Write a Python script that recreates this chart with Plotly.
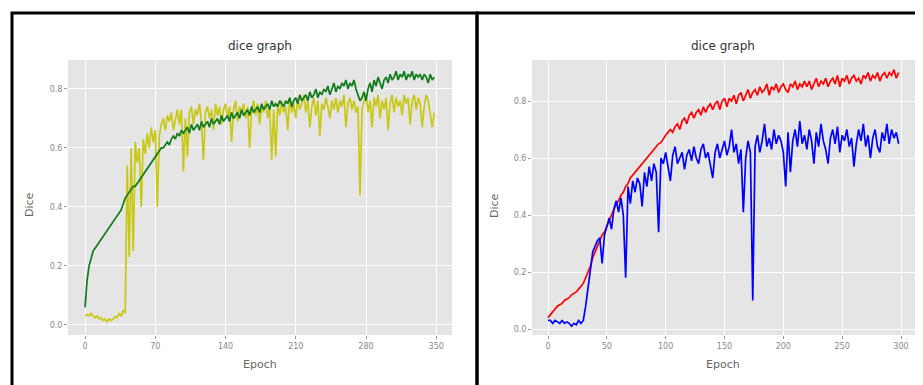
import plotly.graph_objects as go

# ---------------- data ----------------
left_epochs = list(range(0, 350, 2))
left_green = [
    0.06, 0.15, 0.20, 0.23, 0.25, 0.26, 0.27, 0.28, 0.29, 0.30,
    0.31, 0.32, 0.33, 0.34, 0.35, 0.36, 0.37, 0.38, 0.39, 0.41,
    0.43, 0.44, 0.45, 0.46, 0.47, 0.47, 0.48, 0.49, 0.50, 0.51,
    0.52, 0.53, 0.54, 0.55, 0.56, 0.57, 0.58, 0.59, 0.60, 0.60,
    0.61, 0.62, 0.61, 0.63, 0.64, 0.63, 0.65, 0.64, 0.66, 0.65,
    0.66, 0.67, 0.65, 0.68, 0.66, 0.67, 0.68, 0.66, 0.69, 0.67,
    0.68, 0.69, 0.67, 0.70, 0.68, 0.69, 0.70, 0.68, 0.71, 0.69,
    0.70, 0.71, 0.69, 0.72, 0.70, 0.71, 0.72, 0.70, 0.73, 0.71,
    0.72, 0.73, 0.71, 0.74, 0.72, 0.73, 0.74, 0.72, 0.75, 0.73,
    0.74, 0.75, 0.73, 0.76, 0.74, 0.75, 0.74, 0.76, 0.75, 0.74,
    0.76, 0.75, 0.77, 0.74, 0.76, 0.77, 0.75, 0.78, 0.76, 0.77,
    0.78, 0.76, 0.79, 0.77, 0.78, 0.80, 0.77, 0.79, 0.78, 0.80,
    0.79, 0.81, 0.78, 0.80, 0.82, 0.79, 0.81, 0.80, 0.82, 0.81,
    0.83, 0.80, 0.82, 0.81, 0.83, 0.80, 0.78, 0.76, 0.77, 0.79,
    0.76, 0.80, 0.82, 0.79, 0.83, 0.81, 0.84, 0.82, 0.80, 0.83,
    0.84, 0.82, 0.85, 0.83, 0.84, 0.86, 0.83, 0.85, 0.84, 0.86,
    0.83, 0.85, 0.84, 0.86, 0.83, 0.85, 0.84, 0.85, 0.83, 0.85,
    0.84, 0.82, 0.85, 0.83, 0.84,
]
left_yellow = [
    0.03, 0.035, 0.03, 0.04, 0.03, 0.025, 0.03, 0.02, 0.025, 0.015,
    0.02, 0.01, 0.02, 0.015, 0.02, 0.03, 0.025, 0.04, 0.03, 0.05,
    0.04, 0.54, 0.23, 0.60, 0.25, 0.62, 0.55, 0.60, 0.40, 0.63,
    0.58, 0.65, 0.60, 0.67, 0.62, 0.66, 0.40, 0.64, 0.68, 0.70,
    0.66, 0.71, 0.69, 0.72, 0.66, 0.70, 0.73, 0.68, 0.73, 0.52,
    0.70, 0.57, 0.72, 0.74, 0.68, 0.73, 0.71, 0.75, 0.69, 0.56,
    0.72, 0.74, 0.70, 0.73, 0.66, 0.75, 0.71, 0.74, 0.68, 0.73,
    0.75, 0.70, 0.74, 0.62, 0.73, 0.76, 0.69, 0.74, 0.72, 0.75,
    0.70, 0.74, 0.60, 0.73, 0.76, 0.71, 0.75, 0.68, 0.74, 0.72,
    0.76, 0.70, 0.74, 0.56, 0.73, 0.57, 0.75, 0.71, 0.76, 0.72,
    0.74, 0.66, 0.77, 0.72, 0.75, 0.70, 0.77, 0.73, 0.75, 0.78,
    0.72, 0.76, 0.67, 0.74, 0.77, 0.71, 0.76, 0.64, 0.75, 0.73,
    0.77, 0.74, 0.70, 0.76, 0.73, 0.77, 0.72, 0.76, 0.74, 0.78,
    0.67, 0.75, 0.77, 0.73, 0.76, 0.72, 0.74, 0.44, 0.73, 0.76,
    0.78, 0.72, 0.76, 0.67, 0.77, 0.74, 0.78, 0.70, 0.76, 0.73,
    0.77, 0.66, 0.75, 0.78, 0.72, 0.77, 0.74, 0.76, 0.71, 0.78,
    0.75, 0.77, 0.68, 0.76, 0.78, 0.73, 0.77, 0.75, 0.67, 0.74,
    0.78, 0.76, 0.72, 0.67, 0.72,
]

right_epochs = list(range(0, 300, 2))
right_red = [
    0.04, 0.05, 0.06, 0.07, 0.08, 0.085, 0.09, 0.10, 0.105, 0.11,
    0.12, 0.125, 0.13, 0.14, 0.15, 0.16, 0.18, 0.20, 0.22, 0.25,
    0.27, 0.29, 0.31, 0.33, 0.34, 0.36, 0.38, 0.40, 0.42, 0.44,
    0.45, 0.47, 0.48, 0.50, 0.51, 0.53, 0.54, 0.55, 0.56, 0.57,
    0.58, 0.59, 0.60, 0.61, 0.62, 0.63, 0.64, 0.65, 0.655, 0.67,
    0.68, 0.69, 0.70, 0.69, 0.71, 0.72, 0.70, 0.73, 0.74, 0.72,
    0.75, 0.76, 0.74, 0.76, 0.77, 0.75, 0.78, 0.76, 0.78, 0.79,
    0.77, 0.79, 0.80, 0.77, 0.80, 0.81, 0.78, 0.81, 0.80, 0.82,
    0.79, 0.82, 0.83, 0.80, 0.82, 0.84, 0.81, 0.83, 0.84, 0.82,
    0.85, 0.83, 0.84, 0.86, 0.82, 0.85, 0.84, 0.86, 0.83, 0.85,
    0.86, 0.84, 0.83, 0.86, 0.85, 0.87, 0.84, 0.86, 0.85, 0.87,
    0.85, 0.87, 0.84, 0.86, 0.88, 0.85, 0.87, 0.86, 0.88, 0.85,
    0.87, 0.88, 0.86, 0.89, 0.85, 0.88, 0.87, 0.89, 0.86, 0.88,
    0.89, 0.87, 0.88, 0.86, 0.89, 0.88, 0.90, 0.87, 0.89, 0.88,
    0.90, 0.87, 0.89, 0.90, 0.88, 0.90, 0.89, 0.91, 0.88, 0.90,
]
right_blue = [
    0.03, 0.03, 0.02, 0.03, 0.025, 0.02, 0.03, 0.02, 0.025, 0.02,
    0.01, 0.02, 0.015, 0.03, 0.02, 0.03, 0.08, 0.15, 0.22, 0.27,
    0.29, 0.31, 0.32, 0.23, 0.33, 0.36, 0.39, 0.35, 0.42, 0.45,
    0.41, 0.46, 0.40, 0.18, 0.50, 0.44, 0.52, 0.48, 0.53, 0.51,
    0.43, 0.55, 0.50, 0.57, 0.52, 0.58, 0.55, 0.34, 0.60, 0.58,
    0.62, 0.57, 0.52, 0.61, 0.64, 0.58, 0.60, 0.62, 0.56, 0.61,
    0.63, 0.59, 0.64, 0.60, 0.58, 0.63, 0.65, 0.60, 0.62, 0.57,
    0.53, 0.62, 0.65, 0.60, 0.63, 0.66, 0.61, 0.64, 0.70, 0.62,
    0.65, 0.58, 0.63, 0.41, 0.60, 0.66, 0.62, 0.10, 0.64, 0.68,
    0.62, 0.66, 0.72, 0.64, 0.67, 0.63, 0.70, 0.65, 0.68, 0.66,
    0.62, 0.50, 0.69, 0.55, 0.66, 0.70, 0.64, 0.73, 0.65, 0.68,
    0.63, 0.70, 0.66, 0.58, 0.69, 0.64, 0.72, 0.66, 0.63, 0.58,
    0.67, 0.70, 0.65, 0.71, 0.62, 0.68, 0.66, 0.70, 0.64, 0.67,
    0.57, 0.65, 0.70, 0.66, 0.72, 0.64, 0.68, 0.60, 0.67, 0.70,
    0.64, 0.62, 0.69, 0.66, 0.72, 0.65, 0.70, 0.67, 0.69, 0.65,
]

left_xticks = [0, 70, 140, 210, 280, 350]
right_xticks = [0, 50, 100, 150, 200, 250, 300]
y_ticks = [0.0, 0.2, 0.4, 0.6, 0.8]
y_tick_labels = ["0.0", "0.2", "0.4", "0.6", "0.8"]
title_text = "dice graph"
x_title = "Epoch"
y_title = "Dice"

# ---------------- figure ----------------
W, H = 915, 377     # page body has an 8px margin
OFF = 8

fig = go.Figure()

fig.add_trace(go.Scatter(x=left_epochs, y=left_yellow, mode="lines",
                         line=dict(color="#c8c814", width=1.7),
                         xaxis="x", yaxis="y", showlegend=False))
fig.add_trace(go.Scatter(x=left_epochs, y=left_green, mode="lines",
                         line=dict(color="#0f7a18", width=1.7),
                         xaxis="x", yaxis="y", showlegend=False))
fig.add_trace(go.Scatter(x=right_epochs, y=right_red, mode="lines",
                         line=dict(color="#ff0000", width=1.7),
                         xaxis="x2", yaxis="y2", showlegend=False))
fig.add_trace(go.Scatter(x=right_epochs, y=right_blue, mode="lines",
                         line=dict(color="#0000ff", width=1.7),
                         xaxis="x2", yaxis="y2", showlegend=False))

def px_x(p):
    return (p - OFF) / W

def px_y(p):
    return 1 - (p - OFF) / H

tickfont = dict(family="DejaVu Sans", size=8, color="#888888")
common_x = dict(showgrid=True, gridcolor="white", gridwidth=1, zeroline=False,
                ticks="outside", ticklen=3, tickcolor="#999999", tickfont=tickfont,
                showline=False)
common_y = dict(showgrid=True, gridcolor="white", gridwidth=1, zeroline=False,
                ticks="outside", ticklen=3, tickcolor="#999999", tickfont=tickfont,
                showline=False, tickvals=y_ticks, ticktext=y_tick_labels)

y_dom = [px_y(335), px_y(60)]
fig.update_layout(
    width=W, height=H,
    margin=dict(l=0, r=0, t=0, b=0),
    paper_bgcolor="white",
    plot_bgcolor="#e5e5e5",
    font=dict(family="DejaVu Sans"),
    xaxis=dict(domain=[px_x(68), px_x(452)], range=[-17, 365.7],
               tickvals=left_xticks, anchor="y", **common_x),
    yaxis=dict(domain=y_dom, range=[-0.034, 0.898], anchor="x", **common_y),
    xaxis2=dict(domain=[px_x(532), px_x(915)], range=[-13.6, 311.9],
                tickvals=right_xticks, anchor="y2", **common_x),
    yaxis2=dict(domain=y_dom, range=[-0.021, 0.944], anchor="x2", **common_y),
)

# panel borders
fig.add_shape(type="rect", xref="paper", yref="paper",
              x0=px_x(12), x1=px_x(477), y0=px_y(420), y1=px_y(13),
              line=dict(color="black", width=3), layer="above")
fig.add_shape(type="rect", xref="paper", yref="paper",
              x0=px_x(477), x1=px_x(960), y0=px_y(420), y1=px_y(13),
              line=dict(color="black", width=3), layer="above")

ann = []
for cx, ylab_x in [(260, 29), (723, 494)]:
    ann.append(dict(text=title_text, x=px_x(cx), y=px_y(46), xref="paper", yref="paper",
                    showarrow=False, font=dict(size=12, color="#333333"),
                    xanchor="center", yanchor="middle"))
    ann.append(dict(text=x_title, x=px_x(cx), y=px_y(364), xref="paper", yref="paper",
                    showarrow=False, font=dict(size=11, color="#666666"),
                    xanchor="center", yanchor="middle"))
    ann.append(dict(text=y_title, x=px_x(ylab_x), y=px_y(205), xref="paper", yref="paper",
                    showarrow=False, font=dict(size=11, color="#666666"), textangle=-90,
                    xanchor="center", yanchor="middle"))
fig.update_layout(annotations=ann)

fig.write_html("out.html")
